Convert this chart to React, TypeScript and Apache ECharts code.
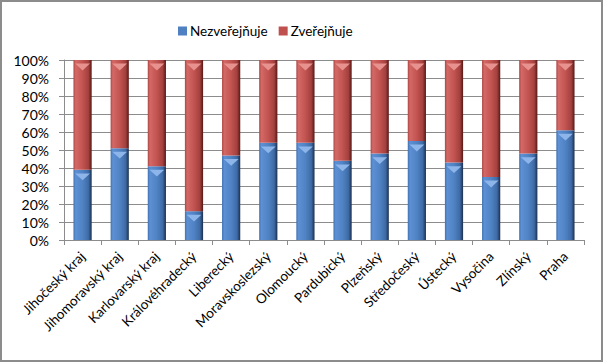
import React, { useEffect, useRef } from "react";
import * as echarts from "echarts";

const categories = [
  "Jihočeský kraj",
  "Jihomoravský kraj",
  "Karlovarský kraj",
  "Královéhradecký",
  "Liberecký",
  "Moravskoslezský",
  "Olomoucký",
  "Pardubický",
  "Plzeňský",
  "Středočeský",
  "Ústecký",
  "Vysočina",
  "Zlínský",
  "Praha",
];
const nezverejnuje = [39, 51, 41, 16, 47, 54, 54, 44, 48, 55, 43, 35, 48, 61];
const zverejnuje = [61, 49, 59, 84, 53, 46, 46, 56, 52, 45, 57, 65, 52, 39];
const yTicks = [0, 10, 20, 30, 40, 50, 60, 70, 80, 90, 100];

const FONT = "Lato";

const blueGrad = new echarts.graphic.LinearGradient(0, 0, 1, 0, [
  { offset: 0, color: "#4070b0" },
  { offset: 0.12, color: "#5d90d4" },
  { offset: 0.5, color: "#5083c4" },
  { offset: 0.82, color: "#3e6ba6" },
  { offset: 1, color: "#1b2f4d" },
]);
const redGrad = new echarts.graphic.LinearGradient(0, 0, 1, 0, [
  { offset: 0, color: "#ad4543" },
  { offset: 0.12, color: "#d36966" },
  { offset: 0.5, color: "#c25350" },
  { offset: 0.82, color: "#a3413e" },
  { offset: 1, color: "#561816" },
]);

export default function App() {
  const ref = useRef<HTMLDivElement>(null);
  useEffect(() => {
    document.body.style.margin = "0";
    const chart = echarts.init(ref.current!, undefined, { renderer: "svg" });
    const totals = nezverejnuje.map((v, i) => v + zverejnuje[i]);
    const cap = {
      type: "pictorialBar",
      symbol: "triangle",
      symbolRotate: 180,
      symbolSize: [15, 7],
      symbolPosition: "end",
      symbolOffset: [0, 3.5],
      z: 5,
      silent: true,
    };
    chart.setOption({
      animation: false,
      backgroundColor: "#ffffff",
      textStyle: { fontFamily: FONT },
      legend: {
        top: 17,
        left: 171,
        itemWidth: 9,
        itemHeight: 9,
        itemGap: 11,
        icon: "rect",
        textStyle: { fontFamily: FONT, fontSize: 13.5, color: "#000", padding: [0, 0, 0, -2] },
        data: [
          { name: "Nezveřejňuje", itemStyle: { color: "#4f81c2" } },
          { name: "Zveřejňuje", itemStyle: { color: "#c0504d" } },
        ],
      },
      grid: { left: 62, right: 17, top: 58, bottom: 120, containLabel: false },
      xAxis: {
        type: "category",
        data: categories,
        boundaryGap: true,
        axisLine: { lineStyle: { color: "#8c8c8c", width: 1 } },
        axisTick: { show: true, alignWithLabel: false, length: 5, lineStyle: { color: "#8c8c8c" } },
        axisLabel: {
          interval: 0,
          rotate: 45,
          margin: 14,
          fontFamily: FONT,
          fontSize: 13.5,
          color: "#000",
        },
      },
      yAxis: {
        type: "value",
        min: yTicks[0],
        max: yTicks[yTicks.length - 1],
        interval: 10,
        axisLine: { show: true, lineStyle: { color: "#8c8c8c", width: 1 } },
        axisTick: { show: true, length: 5, lineStyle: { color: "#8c8c8c" } },
        splitLine: { show: true, lineStyle: { color: "#8c8c8c", width: 1 } },
        axisLabel: {
          formatter: "{value}%",
          fontFamily: FONT,
          fontSize: 14,
          color: "#000",
          margin: 15,
        },
      },
      series: [
        {
          name: "Nezveřejňuje",
          type: "bar",
          stack: "total",
          barWidth: "49%",
          data: nezverejnuje,
          itemStyle: { color: blueGrad },
        },
        {
          name: "Zveřejňuje",
          type: "bar",
          stack: "total",
          barWidth: "49%",
          data: zverejnuje,
          itemStyle: { color: redGrad },
        },
        { ...cap, name: "capBlue", data: nezverejnuje, itemStyle: { color: "#8db5ea" } },
        { ...cap, name: "capRed", data: totals, itemStyle: { color: "#e8928f" } },
      ],
    });
    return () => chart.dispose();
  }, []);
  return (
    <div
      style={{
        width: 603,
        height: 362,
        boxSizing: "border-box",
        border: "2px solid #8c8c8c",
        background: "#fff",
      }}
    >
      <div ref={ref} style={{ width: 599, height: 358 }} />
    </div>
  );
}
